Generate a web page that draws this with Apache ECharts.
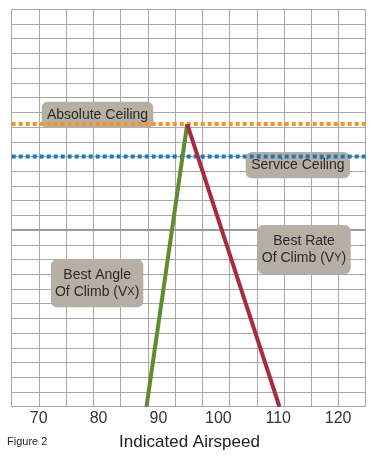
<!DOCTYPE html>
<html><head><meta charset="utf-8">
<script src="https://cdn.jsdelivr.net/npm/echarts@6/dist/echarts.min.js"></script>
<style>html,body{margin:0;padding:0;background:#fff}#c{width:379px;height:460px}</style>
</head><body><div id="c"></div>
<script>
// Data
var xTickLabels = [70, 80, 90, 100, 110, 120];
var bestAngleLine = [[88, 0], [94.8, 19.2]];
var bestRateLine = [[94.8, 19.2], [110.2, 0]];
var absoluteCeiling = 19.2;
var serviceCeiling = 17;
var referenceLevel = 12;
var xMin = 65.5, xMax = 124.6;
var gridCols = 13, gridRows = 27;

var chart = echarts.init(document.getElementById('c'));
var font = '"Liberation Sans", Arial, sans-serif';
var boxFill = '#b7afa3';
function box(left, top, w, h, lines) {
  return {
    type: 'group', left: left, top: top, z: 5,
    children: [
      {type: 'rect', z: 5, shape: {x: 0, y: 0, width: w, height: h, r: 6}, style: {fill: boxFill}},
      {type: 'text', z: 6, x: w / 2, y: h / 2, style: {
        text: lines, align: 'center', verticalAlign: 'middle',
        font: '14px ' + font, fill: '#2a2a2a', lineHeight: 17,
        rich: {s: {fontSize: 11, fontFamily: font, fill: '#2a2a2a'}}
      }}
    ]
  };
}
chart.setOption({
  animation: false,
  grid: {left: 11.7, right: 13.3, top: 9.3, bottom: 53.3},
  xAxis: [
    {type: 'value', min: xMin, max: xMax, position: 'bottom',
     axisLine: {show: true, lineStyle: {color: '#a8a8a8', width: 1}},
     axisTick: {show: false}, splitLine: {show: false},
     axisLabel: {customValues: xTickLabels, color: '#333', fontSize: 16, fontFamily: font, margin: 4}
    },
    {type: 'value', min: 0, max: gridCols, interval: 1, position: 'top',
     axisLine: {show: false}, axisTick: {show: false}, axisLabel: {show: false},
     splitLine: {show: true, lineStyle: {color: '#a8a8a8', width: 1}}
    }
  ],
  yAxis: {type: 'value', min: 0, max: gridRows, interval: 1,
    axisLine: {show: false}, axisTick: {show: false}, axisLabel: {show: false},
    splitLine: {show: true, lineStyle: {color: '#a8a8a8', width: 1}}
  },
  series: [
    {type: 'line', xAxisIndex: 0, data: [[xMin, referenceLevel], [xMax, referenceLevel]], symbol: 'none',
     lineStyle: {color: '#9a9a9a', width: 2}, z: 1},
    {type: 'line', xAxisIndex: 0, data: [[xMin, absoluteCeiling], [xMax, absoluteCeiling]], symbol: 'none',
     lineStyle: {color: '#f0952a', width: 4, type: [4, 3]}, z: 8},
    {type: 'line', xAxisIndex: 0, data: [[xMin, serviceCeiling], [xMax, serviceCeiling]], symbol: 'none',
     lineStyle: {color: '#1a78bd', width: 4, type: [4, 3]}, z: 8},
    {type: 'line', xAxisIndex: 0, data: bestAngleLine, symbol: 'none',
     lineStyle: {color: '#5e8c2f', width: 4}, z: 9},
    {type: 'line', xAxisIndex: 0, data: bestRateLine, symbol: 'none',
     lineStyle: {color: '#a62a40', width: 4}, z: 9}
  ],
  graphic: [
    box(41.7, 101.7, 111.6, 26.3, 'Absolute Ceiling'),
    box(245.7, 152, 104.3, 26.3, 'Service Ceiling'),
    box(257.3, 225, 93.4, 49, 'Best Rate\nOf Climb (V{s|Y})'),
    box(51, 259.3, 92.3, 48, 'Best Angle\nOf Climb (V{s|X})'),
    {type: 'text', left: 7, top: 436, style: {text: 'Figure 2', font: '11px ' + font, fill: '#222'}},
    {type: 'text', left: 'center', top: 434, style: {text: 'Indicated Airspeed', font: '17px ' + font, fill: '#222'}}
  ]
});
</script></body></html>
